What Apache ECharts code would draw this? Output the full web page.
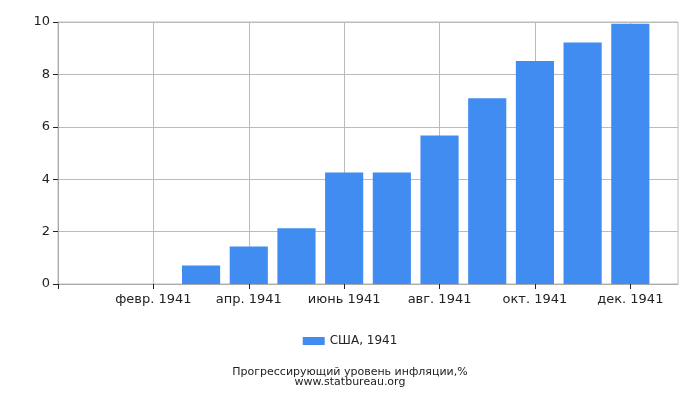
<!DOCTYPE html>
<html>
<head>
<meta charset="utf-8">
<script src="https://cdn.jsdelivr.net/npm/echarts@6/dist/echarts.min.js"></script>
<style>
    html, body { margin: 0; padding: 0; background: #fff; }
    #chart1 { width: 700px; height: 400px; }
</style>
</head>
<body>
<div id="chart1"></div>
<script>
// Данные графика
const months = ['янв. 1941', 'февр. 1941', 'март 1941', 'апр. 1941', 'май 1941', 'июнь 1941',
    'июль 1941', 'авг. 1941', 'сент. 1941', 'окт. 1941', 'нояб. 1941', 'дек. 1941'];
const inflation = [0, 0, 0.71, 1.43, 2.13, 4.26, 4.26, 5.67, 7.09, 8.51, 9.22, 9.93];
const seriesName = 'США, 1941';
const yTicks = [0, 2, 4, 6, 8, 10];

let chart1;

// пустые позиции по краям, чтобы месяцы встали как на оригинале
const axisData = [''].concat(months, ['']);
const barData = [null].concat(inflation, [null]);
const lastIdx = axisData.length - 1;

const everyOther = function (i) {
    return i > 0 && i < lastIdx && i % 2 === 0;
};

function initCharts() {
    chart1 = echarts.init(document.getElementById('chart1'));
    let option = {
        animation: false,
        textStyle: { fontFamily: 'DejaVu Sans' },
        title: {
            text: 'Прогрессирующий уровень инфляции,%',
            subtext: 'www.statbureau.org',
            left: 'center',
            top: 361,
            itemGap: -2,
            textStyle: { fontSize: 11, fontWeight: 'normal', color: '#222', lineHeight: 13 },
            subtextStyle: { fontSize: 11, color: '#222', lineHeight: 11 }
        },
        legend: {
            top: 330,
            left: 'center',
            itemWidth: 22,
            itemHeight: 8,
            itemGap: 4,
            icon: 'rect',
            textStyle: { fontSize: 12, color: '#222' },
            data: [seriesName]
        },
        grid: {
            left: 58,
            right: 22,
            top: 22,
            height: 262,
            show: true,
            borderColor: '#bbb',
            borderWidth: 1
        },
        xAxis: {
            type: 'category',
            boundaryGap: false,
            data: axisData,
            axisLine: { lineStyle: { color: '#aaa' } },
            axisTick: {
                interval: function (i) { return i === 0 || everyOther(i); },
                length: 5,
                lineStyle: { color: '#222' }
            },
            axisLabel: {
                interval: everyOther,
                fontSize: 13,
                color: '#222',
                margin: 9
            },
            splitLine: {
                show: true,
                interval: everyOther,
                lineStyle: { color: '#bbb' }
            }
        },
        yAxis: {
            type: 'value',
            min: yTicks[0],
            max: yTicks[yTicks.length - 1],
            interval: 2,
            axisLine: { show: true, lineStyle: { color: '#aaa' } },
            axisTick: { show: true, length: 5, lineStyle: { color: '#222' } },
            axisLabel: { fontSize: 13, color: '#222', margin: 8 },
            splitLine: { lineStyle: { color: '#bbb' } }
        },
        series: [
            {
                name: seriesName,
                type: 'bar',
                barWidth: '80%',
                itemStyle: { color: '#418cf0' },
                data: barData
            }
        ]
    };
    chart1.setOption(option);
}

document.addEventListener('DOMContentLoaded', function () {
    initCharts();
});
</script>
</body>
</html>
